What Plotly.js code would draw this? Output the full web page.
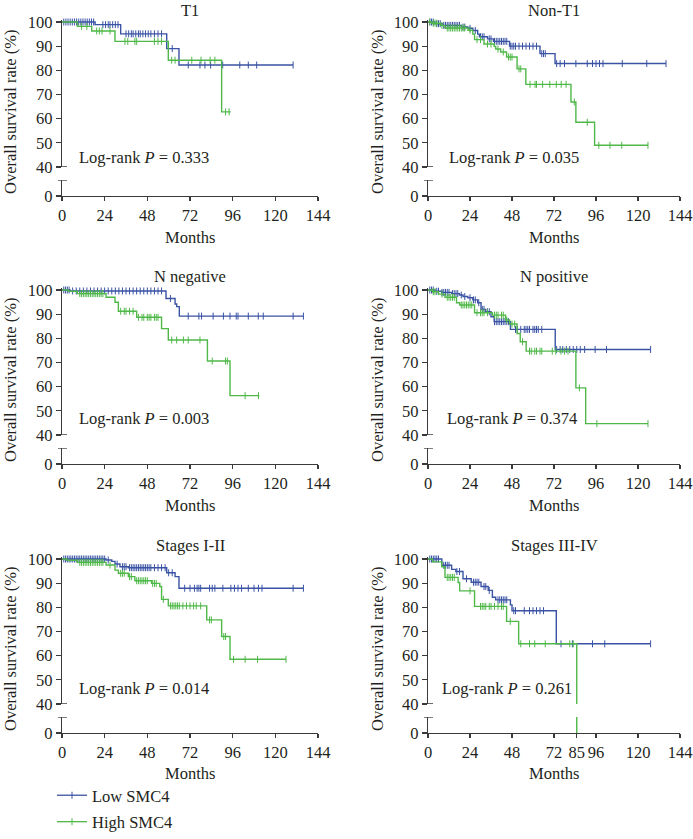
<!DOCTYPE html>
<html><head><meta charset="utf-8">
<script src="https://cdn.plot.ly/plotly-3.0.1.min.js"></script>
<style>html,body{margin:0;padding:0;background:#fff}#chart{width:693px;height:839px}</style>
</head><body><div id="chart"></div>
<script>
// ---------- DATA (months, survival %) ----------
const panelTitles = ['T1', 'Non-T1', 'N negative', 'N positive', 'Stages I-II', 'Stages III-IV'];
const pValues = ['0.333', '0.035', '0.003', '0.374', '0.014', '0.261'];
const seriesNames = ['Low SMC4', 'High SMC4'];
const xTicks = [0, 24, 48, 72, 96, 120, 144];
const xTicksStage34 = [0, 24, 48, 72, 85, 96, 120, 144];
const yTicksUpper = [40, 50, 60, 70, 80, 90, 100];
const yTicksLower = [0];

// T1
const t1LowT = [0, 18.6, 33, 58.9, 65.8, 130];
const t1LowS = [100, 98.9, 95.1, 89.0, 82.2, 82.2];
const t1LowC = [1, 2.2, 3.4, 4.6, 5.8, 7, 8.2, 9.4, 10.6, 11.8, 13, 14.2, 15.4, 16.6, 17.8, 23, 24.5, 26, 27, 28.5, 30, 31.5, 36, 37.5, 39, 40, 41.5, 43, 44, 45.5, 47, 48.5, 50, 52, 54, 56, 62, 71, 77.6, 80.4, 83.6, 90.4, 100, 104.8, 109.5, 130];
const t1HighT = [0, 8.7, 16.7, 29.8, 59.8, 89.8, 94.9];
const t1HighS = [100, 98.2, 96.3, 92.0, 84.2, 62.8, 62.8];
const t1HighC = [11, 14, 19.5, 21, 22.5, 27, 35.4, 37, 41, 42, 52, 54, 56, 61.7, 63.6, 73, 78.2, 83.3, 86, 92, 94];

// Non-T1
const nt1LowT = [0, 4, 8, 19, 22.8, 25.6, 28.4, 29.4, 34, 37.4, 46.6, 64, 72.6, 136];
const nt1LowS = [100, 99.3, 98.6, 97.9, 97.4, 96.5, 95.0, 93.9, 93.0, 92.0, 90.0, 86.9, 82.8, 82.8];
const nt1LowC = [1, 2, 3, 5, 6, 7, 9, 10, 11, 12, 13, 14, 15, 16, 17, 18, 20, 21, 24, 27, 30, 31, 32, 35, 36, 38, 39, 40, 41, 42, 43, 44, 45, 47, 48, 49, 50, 52, 54, 56, 58, 60, 62, 65, 66, 67, 73.5, 75.5, 78, 84.5, 91, 94, 96, 98, 100, 111, 125, 136];
const nt1HighT = [0, 2.2, 7, 9.7, 22.8, 25.6, 26.6, 32, 37.8, 38.7, 41.5, 44.9, 50.9, 55.9, 81.7, 84.5, 95.2, 125.7];
const nt1HighS = [100, 99.5, 98.6, 97.5, 96.6, 95.0, 92.7, 90.9, 89.9, 88.8, 87.6, 85.5, 80.6, 74.2, 66.9, 58.5, 49.0, 49.0];
const nt1HighC = [1, 3, 4, 5, 8, 11, 12, 13, 14, 15, 16, 17, 18, 19, 20, 21, 24, 28, 30, 34, 36, 40, 43, 46, 47, 48, 52, 53, 58.3, 61.2, 62, 65.5, 69.6, 73.3, 76.1, 78.9, 83.6, 91, 97.6, 104, 110.7, 125.7];

// N negative
const nnLowT = [0, 4.5, 58.5, 63.6, 64.5, 66, 135.8];
const nnLowS = [100, 99.6, 96.5, 94.2, 93.1, 89.2, 89.2];
const nnLowC = [1, 2, 3, 4, 6, 8, 10, 12, 14, 16, 18, 20, 22, 24, 26, 28, 30, 32, 34, 36, 38, 40, 42, 44, 46, 48, 50, 52, 54, 56, 61, 71, 77, 78.5, 85, 90.8, 94.5, 98, 99, 104.8, 110.4, 113.2, 130, 135.8];
const nnHighT = [0, 3.6, 8.6, 24.8, 29.8, 31.7, 42, 56, 59.8, 81.8, 94.5, 111];
const nnHighS = [100, 99.5, 98.5, 97.0, 94.9, 91.2, 88.7, 84.0, 79.3, 70.6, 56.3, 56.3];
const nnHighC = [10, 11, 12, 13, 14, 15, 16, 17, 18, 19, 20, 21, 22, 23, 33, 35, 36, 38, 40, 43, 45, 46, 48, 49, 50, 52, 53, 54, 61.7, 64.5, 68.3, 71, 77.6, 84.5, 92, 93, 103, 110.5];

// N positive
const npLowT = [0, 4, 7.9, 13.5, 18, 20, 22.8, 25.6, 28.4, 30.3, 33, 36, 37.8, 47.1, 72.7, 127.2];
const npLowS = [100, 99.5, 99.0, 98.5, 97.9, 97.3, 96.8, 95.9, 94.7, 92.0, 91.0, 88.9, 86.9, 83.7, 75.4, 75.4];
const npLowC = [1, 2, 3, 5, 6, 8, 9, 10, 11, 12, 14, 15, 16, 17, 19, 21, 24, 26, 27, 29, 31, 32, 34, 35, 38, 39, 40, 41, 42, 43, 44, 45, 46, 50, 51, 53, 55, 56, 57, 58, 60, 61, 62, 63, 65, 73.5, 75.5, 77, 79, 81, 83, 85, 87, 89.5, 95.5, 102, 127.2];
const npHighT = [0, 2.6, 6, 9.7, 16.3, 18.1, 26.6, 36.8, 44.3, 46.6, 50.9, 52.7, 56.1, 84.5, 90.1, 125.7];
const npHighS = [100, 99.3, 98.3, 97.0, 94.7, 93.8, 90.6, 89.6, 87.6, 85.9, 82.0, 78.6, 74.7, 59.5, 44.7, 44.7];
const npHighC = [3, 4, 8, 11, 12, 13, 14, 15, 19, 20, 21, 22, 23, 24, 25, 28, 30, 31, 32, 34, 38, 39, 40, 42, 43, 45, 48, 49.5, 54, 58, 59, 61, 62, 64, 65, 71, 73, 76, 78, 80, 86.5, 96.5, 125.7];

// Stages I-II
const s12LowT = [0, 24.8, 28, 29.8, 32.6, 37.3, 58.9, 63.6, 65.8, 135.8];
const s12LowS = [100, 99.6, 99.0, 97.9, 96.8, 96.4, 94.3, 92.7, 87.9, 87.9];
const s12LowC = [1, 2, 3, 4, 5, 6, 7, 8, 9, 10, 11, 12, 13, 14, 15, 16, 17, 18, 19, 20, 21, 22, 23, 24, 26, 31, 34, 35, 36, 38, 39, 40, 41, 42, 43, 44, 45, 46, 47, 48, 49, 50, 52, 54, 56, 58, 60, 62, 69, 72, 74.5, 76, 77, 78, 83, 84.5, 86, 90.5, 95, 97, 99, 101, 104.8, 108, 110.5, 112.5, 130, 135.8];
const s12HighT = [0, 2.6, 8.6, 24.8, 29.8, 31.7, 37.3, 41, 50.4, 55, 56, 59.8, 81.4, 89.8, 94.5, 126];
const s12HighS = [100, 99.5, 98.6, 97.5, 95.4, 94.1, 92.7, 91.0, 89.9, 88.6, 83.3, 80.6, 74.8, 67.9, 58.5, 58.5];
const s12HighC = [10, 11, 12, 13, 14, 15, 16, 17, 18, 19, 20, 21, 22, 23, 27, 33, 34, 35, 38, 39, 42, 43, 44, 45, 46, 47, 48, 51, 52, 53, 57, 61, 62, 63, 64, 65, 66, 68, 70, 72, 74, 75.5, 78, 83, 84, 91, 92, 96.5, 103, 110, 126];

// Stages III-IV
const s34LowT = [0, 7.9, 13.5, 15.9, 20, 24.7, 30.3, 34.4, 36.8, 38.7, 47.1, 48, 73.3, 127.2];
const s34LowS = [100, 97.4, 95.7, 94.8, 91.8, 90.4, 88.6, 87.0, 84.2, 83.1, 81.0, 78.6, 64.9, 64.9];
const s34LowC = [1, 2, 3, 4, 5, 6, 9, 10, 11, 12, 16.5, 18, 22, 26, 27, 28, 29, 32, 33, 35, 40, 41, 42, 43, 44, 45, 49, 50, 55, 58, 60, 62, 64, 66, 76, 82.5, 94, 101, 127.2];
const s34HighT = [0, 2.6, 7.9, 9.7, 17.2, 18.1, 26.6, 44.9, 51.8, 85];
const s34HighS = [100, 98.8, 96.8, 92.4, 90.3, 86.8, 80.4, 74.2, 64.9, 0];
const s34HighC = [11, 12, 13, 14, 15, 24, 30, 31, 32, 33, 35, 36, 38, 40, 42, 43, 47, 53, 58, 61, 67, 81, 83];

// ---------- BUILD ----------
const curves = [
  [[t1LowT, t1LowS, t1LowC], [t1HighT, t1HighS, t1HighC]],
  [[nt1LowT, nt1LowS, nt1LowC], [nt1HighT, nt1HighS, nt1HighC]],
  [[nnLowT, nnLowS, nnLowC], [nnHighT, nnHighS, nnHighC]],
  [[npLowT, npLowS, npLowC], [npHighT, npHighS, npHighC]],
  [[s12LowT, s12LowS, s12LowC], [s12HighT, s12HighS, s12HighC]],
  [[s34LowT, s34LowS, s34LowC], [s34HighT, s34HighS, s34HighC]]
];
const colors = ['#3a53a4', '#4fb848'];
const axisColor = '#3a3a3a';
const textColor = '#231f20';
const FONT = 'Liberation Serif, Times New Roman, serif';
const FS = 16.5;

const W = 693, H = 839;
const colX = [62, 428], colW = [256, 252];
const rowTop = [22, 290, 559], rowMid = [167, 435, 704], rowBot = [196, 464, 733];
const lowerH = 16;
const titleY = [11, 276, 545];
const monthsY = [237, 505, 773];
const logrankPos = [[77, 158], [447, 158], [77, 418], [445, 418], [77, 688], [440, 688]];
const yTitleX = [10, 377];

const fx = px => px / W;
const fy = py => 1 - py / H;

function levelAt(T, S, c) {
  let v = S[0];
  for (let i = 0; i < T.length; i++) if (T[i] <= c) v = S[i];
  return v;
}

const data = [];
const layout = {
  width: W, height: H,
  margin: {l: 0, r: 0, t: 0, b: 0},
  paper_bgcolor: '#fff', plot_bgcolor: 'rgba(0,0,0,0)',
  font: {family: FONT, size: FS, color: textColor},
  showlegend: true,
  legend: {x: fx(52), y: 0, xanchor: 'left', yanchor: 'bottom', bgcolor: 'rgba(0,0,0,0)',
           font: {family: FONT, size: FS, color: textColor}, itemwidth: 30, tracegroupgap: 2,
           traceorder: 'grouped'},
  annotations: [], shapes: []
};

for (let k = 0; k < 6; k++) {
  const col = k % 2, row = Math.floor(k / 2);
  const xn = k === 0 ? 'x' : 'x' + (k + 1);
  const yl = 'y' + (2 * k + 1 === 1 ? '' : 2 * k + 1);
  const yu = 'y' + (2 * k + 2);
  const ppu = (rowMid[row] - rowTop[row]) / 60;
  const lowerMax = lowerH / ppu;

  layout['xaxis' + (k === 0 ? '' : k + 1)] = {
    domain: [fx(colX[col]), fx(colX[col] + colW[col])], range: [0, 144], anchor: yl,
    tickvals: k === 5 ? xTicksStage34 : xTicks, ticks: 'outside', ticklen: 4, tickwidth: 1.3,
    tickcolor: axisColor, showline: true, linecolor: axisColor, linewidth: 1.3,
    showgrid: false, zeroline: false, tickfont: {family: FONT, size: FS, color: textColor},
    ticklabeloverflow: 'allow', fixedrange: true
  };
  layout['yaxis' + (2 * k + 1 === 1 ? '' : 2 * k + 1)] = {
    domain: [fy(rowBot[row]), fy(rowBot[row] - lowerH)], range: [0, lowerMax], anchor: xn,
    tickvals: yTicksLower, ticks: 'outside', ticklen: 5, tickwidth: 1.3, tickcolor: axisColor,
    showline: true, linecolor: axisColor, linewidth: 1.3, showgrid: false, zeroline: false,
    tickfont: {family: FONT, size: FS, color: textColor}, fixedrange: true
  };
  layout['yaxis' + (2 * k + 2)] = {
    domain: [fy(rowMid[row]), fy(rowTop[row] - ppu)], range: [40, 101], anchor: xn,
    tickvals: yTicksUpper, ticks: 'outside', ticklen: 5, tickwidth: 1.3, tickcolor: axisColor,
    showline: true, linecolor: axisColor, linewidth: 1.3, showgrid: false, zeroline: false,
    tickfont: {family: FONT, size: FS, color: textColor}, fixedrange: true
  };

  // axis break marks
  const w = colW[col];
  layout.shapes.push({type: 'line', xref: xn + ' domain', yref: yu, x0: -4 / w, x1: 5 / w, y0: 40, y1: 40,
                      line: {color: axisColor, width: 1.3}});
  layout.shapes.push({type: 'line', xref: xn + ' domain', yref: yl, x0: -4 / w, x1: 5 / w, y0: lowerMax, y1: lowerMax,
                      line: {color: axisColor, width: 1.3}});

  for (let g = 0; g < 2; g++) {
    const [T, S, C] = curves[k][g];
    data.push({type: 'scatter', mode: 'lines', x: T, y: S, xaxis: xn, yaxis: yu,
               line: {shape: 'hv', color: colors[g], width: 1.4}, showlegend: false, hoverinfo: 'skip'});
    data.push({type: 'scatter', mode: 'lines', x: T, y: S, xaxis: xn, yaxis: yl,
               line: {shape: 'hv', color: colors[g], width: 1.4}, showlegend: false, hoverinfo: 'skip'});
    data.push({type: 'scatter', mode: 'markers', x: C, y: C.map(c => levelAt(T, S, c)), xaxis: xn, yaxis: yu,
               marker: {symbol: 'line-ns', size: 5, color: colors[g], line: {color: colors[g], width: 1}},
               cliponaxis: false, showlegend: false, hoverinfo: 'skip'});
  }

  const cx = fx(colX[col] + colW[col] / 2);
  layout.annotations.push({text: panelTitles[k], xref: 'paper', yref: 'paper', x: cx, y: fy(titleY[row]),
                           xanchor: 'center', yanchor: 'middle', showarrow: false, font: {size: FS}});
  layout.annotations.push({text: 'Months', xref: 'paper', yref: 'paper', x: cx, y: fy(monthsY[row]),
                           xanchor: 'center', yanchor: 'middle', showarrow: false, font: {size: FS}});
  layout.annotations.push({text: 'Overall survival rate (%)', xref: 'paper', yref: 'paper', x: fx(yTitleX[col]),
                           y: fy((rowTop[row] + rowBot[row]) / 2 + 3), textangle: -90,
                           xanchor: 'center', yanchor: 'middle', showarrow: false, font: {size: FS}});
  layout.annotations.push({text: 'Log-rank <i>P</i> = ' + pValues[k], xref: 'paper', yref: 'paper',
                           x: fx(logrankPos[k][0]), y: fy(logrankPos[k][1]),
                           xanchor: 'left', yanchor: 'middle', showarrow: false, font: {size: FS}});
}

// legend entries
for (let g = 0; g < 2; g++) {
  data.push({type: 'scatter', mode: 'lines+markers', x: [null], y: [null], name: seriesNames[g],
             legendgroup: 'g' + g, showlegend: true,
             line: {color: colors[g], width: 1.3},
             marker: {symbol: 'line-ns', size: 5, color: colors[g], line: {color: colors[g], width: 1}}});
}

Plotly.newPlot('chart', data, layout, {displayModeBar: false, staticPlot: true});
</script>
</body></html>
